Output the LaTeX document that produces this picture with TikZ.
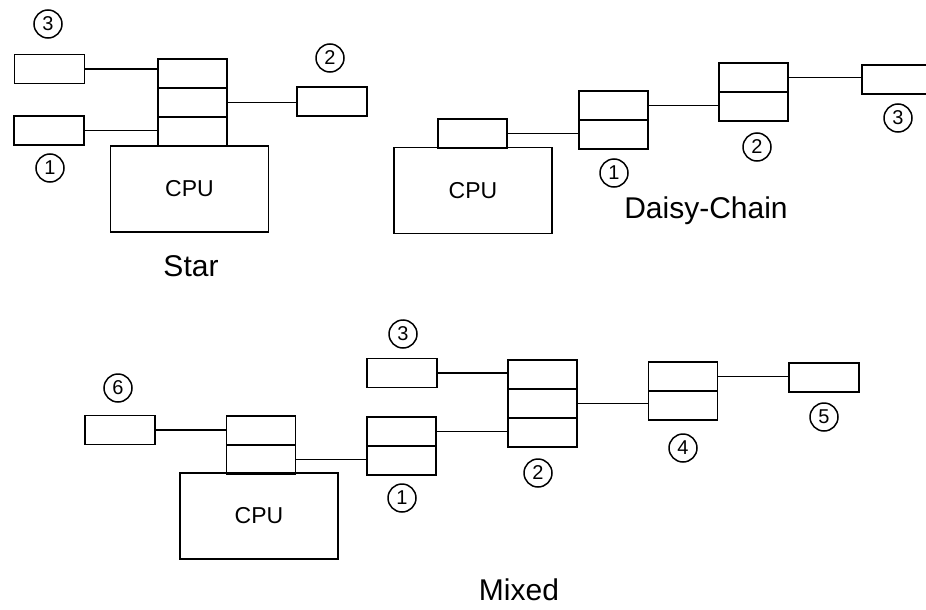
\documentclass[tikz,border=0pt]{standalone}
\usepackage{fontspec}
\setmainfont{Liberation Sans}
\usetikzlibrary{positioning}

\tikzset{
	dev/.style={draw,rectangle,minimum width=70pt,minimum height=29pt,inner sep=0pt,outer sep=0pt},
	port/.style={draw,rectangle,minimum width=69pt,minimum height=29pt,inner sep=0pt,outer sep=0pt},
	cpu/.style={draw,rectangle,minimum width=158pt,minimum height=86pt,inner sep=0pt,outer sep=0pt,font=\fontsize{23}{23}\selectfont},
	num/.style={draw,circle,minimum size=28pt,inner sep=0pt,line width=1.5pt,font=\fontsize{20}{20}\selectfont},
	title/.style={font=\fontsize{30}{30}\selectfont}
}

\begin{document}
\begin{tikzpicture}[x=1pt,y=-1pt,line width=1.8pt]
	\useasboundingbox (0,0) rectangle (926,610);
	\clip (0,0) rectangle (926,610);

	% Star
	\node[dev] (s3) at (49.5,69) {};
	\node[dev] (s1) at (49,130.5) {};
	\node[port] (sp1) at (192.5,73.5) {};
	\node[port,below=0pt of sp1] (sp2) {};
	\node[port,below=0pt of sp2] (sp3) {};
	\node[cpu] (scpu) at (189.5,189) {CPU};
	\node[dev] (s2) at (332,101.5) {};
	\node[num] (sn3) at (48,24) {3};
	\node[num] (sn1) at (50,168) {1};
	\node[num] (sn2) at (330,58) {2};
	\node[title] (star) at (191,266) {Star};
	\draw (s3.east) -- (s3.east -| sp1.west);
	\draw (s1.east) -- (s1.east -| sp3.west);
	\draw (sp2.east) -- (sp2.east -| s2.west);

	% Daisy-Chain
	\node[cpu] (dcpu) at (473,190.5) {CPU};
	\node[port] (dp) at (472.5,133.5) {};
	\node[port] (d1a) at (613.5,105.5) {};
	\node[port,below=0pt of d1a] (d1b) {};
	\node[port] (d2a) at (753.5,77.5) {};
	\node[port,below=0pt of d2a] (d2b) {};
	\node[dev] (d3) at (897,79.5) {};
	\node[num] (dn1) at (614,173) {1};
	\node[num] (dn2) at (757,147) {2};
	\node[num] (dn3) at (898,118) {3};
	\node[title] (daisy) at (706,211) {Daisy-Chain};
	\draw (dp.east) -- (dp.east -| d1b.west);
	\draw (d1a.east) -- (d1a.east -| d2b.west);
	\draw (d2a.east) -- (d2a.east -| d3.west);

	% Mixed
	\node[dev] (m6) at (120,430) {};
	\node[port] (mpa) at (261,430.5) {};
	\node[port,below=0pt of mpa] (mpb) {};
	\node[cpu] (mcpu) at (259,516) {CPU};
	\node[dev] (m3) at (402,373) {};
	\node[port] (m1a) at (401.5,431.5) {};
	\node[port,below=0pt of m1a] (m1b) {};
	\node[port] (m2a) at (542.5,374.5) {};
	\node[port,below=0pt of m2a] (m2b) {};
	\node[port,below=0pt of m2b] (m2c) {};
	\node[port] (m4a) at (683,376.5) {};
	\node[port,below=0pt of m4a] (m4b) {};
	\node[dev] (m5) at (824,377.5) {};
	\node[num] (mn6) at (118,388) {6};
	\node[num] (mn3) at (403,334) {3};
	\node[num] (mn1) at (402,498) {1};
	\node[num] (mn2) at (538,473) {2};
	\node[num] (mn4) at (683,448) {4};
	\node[num] (mn5) at (824,417) {5};
	\node[title] (mixed) at (519,590) {Mixed};
	\draw (m6.east) -- (m6.east -| mpa.west);
	\draw (mpb.east) -- (mpb.east -| m1b.west);
	\draw (m1a.east) -- (m1a.east -| m2c.west);
	\draw (m3.east) -- (m3.east -| m2a.west);
	\draw (m2b.east) -- (m2b.east -| m4b.west);
	\draw (m4a.east) -- (m4a.east -| m5.west);
\end{tikzpicture}
\end{document}
